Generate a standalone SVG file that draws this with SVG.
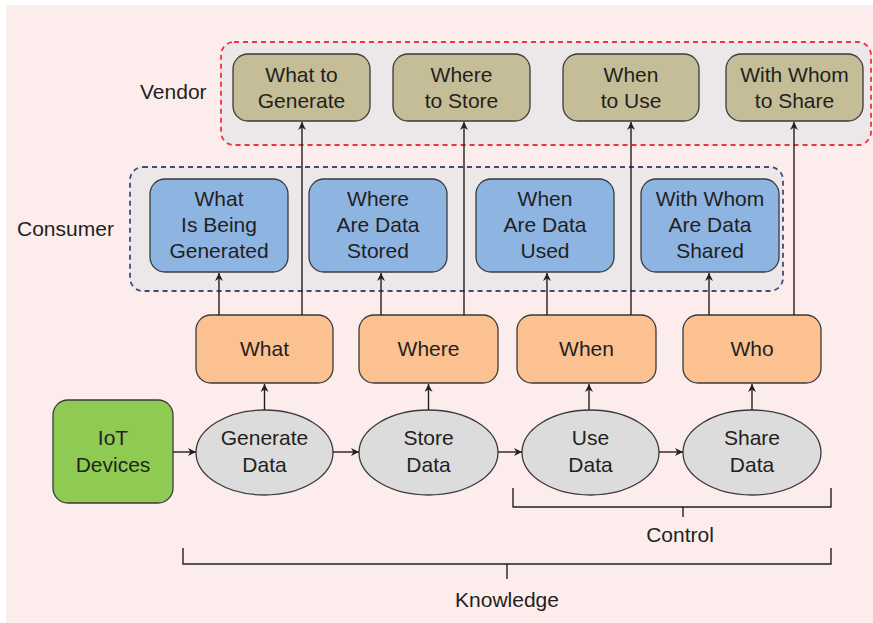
<svg xmlns="http://www.w3.org/2000/svg" width="873" height="623" viewBox="0 0 873 623">
<defs>
<marker id="ah" viewBox="0 0 10 10" refX="10" refY="5" markerWidth="9" markerHeight="8" markerUnits="userSpaceOnUse" orient="auto">
<path d="M0,0 L10,5 L0,10 L3,5 z" fill="#231f20"/>
</marker>
<style>
text{font-family:"Liberation Sans",Arial,sans-serif;font-size:21px;fill:#231f20;}
.c{text-anchor:middle;}
.node{stroke:#3a3a3a;stroke-width:1.3;}
.vendor{fill:#c4bd97;}
.cons{fill:#8eb4e2;}
.q{fill:#fbc191;}
.ell{fill:#dcdcdc;}
.iot{fill:#8fcb53;}
.conn line,.conn path{stroke:#231f20;stroke-width:1.4;fill:none;}
.arr{marker-end:url(#ah);}
</style>
</defs>
<rect x="0" y="0" width="873" height="623" fill="#ffffff"/>
<rect x="6" y="5" width="867" height="618" fill="#fdecec"/>

<g id="vendor-group">
<rect x="221" y="42" width="650" height="103" rx="13" fill="#ece8e9" stroke="#ef3340" stroke-width="1.8" stroke-dasharray="5,4"/>
<text x="140" y="99">Vendor</text>
</g>
<g id="consumer-group">
<rect x="130" y="167" width="653" height="124" rx="13" fill="#ece8e9" stroke="#414a7a" stroke-width="1.8" stroke-dasharray="5,4"/>
<text x="17" y="236">Consumer</text>
</g>

<g id="v1"><rect class="node vendor" x="233" y="54" width="137" height="67" rx="15"/><text class="c" x="301.5" y="82">What to</text><text class="c" x="301.5" y="108">Generate</text></g>
<g id="v2"><rect class="node vendor" x="393" y="54" width="137" height="67" rx="15"/><text class="c" x="461.5" y="82">Where</text><text class="c" x="461.5" y="108">to Store</text></g>
<g id="v3"><rect class="node vendor" x="563" y="54" width="136" height="67" rx="15"/><text class="c" x="631" y="82">When</text><text class="c" x="631" y="108">to Use</text></g>
<g id="v4"><rect class="node vendor" x="726" y="54" width="137" height="67" rx="15"/><text class="c" x="794.5" y="82">With Whom</text><text class="c" x="794.5" y="108">to Share</text></g>

<g id="c1"><rect class="node cons" x="150" y="179" width="138" height="93" rx="15"/><text class="c" x="219" y="206">What</text><text class="c" x="219" y="232">Is Being</text><text class="c" x="219" y="258">Generated</text></g>
<g id="c2"><rect class="node cons" x="309" y="179" width="138" height="93" rx="15"/><text class="c" x="378" y="206">Where</text><text class="c" x="378" y="232">Are Data</text><text class="c" x="378" y="258">Stored</text></g>
<g id="c3"><rect class="node cons" x="476" y="179" width="138" height="93" rx="15"/><text class="c" x="545" y="206">When</text><text class="c" x="545" y="232">Are Data</text><text class="c" x="545" y="258">Used</text></g>
<g id="c4"><rect class="node cons" x="641" y="179" width="138" height="93" rx="15"/><text class="c" x="710" y="206">With Whom</text><text class="c" x="710" y="232">Are Data</text><text class="c" x="710" y="258">Shared</text></g>

<g id="q1"><rect class="node q" x="196" y="315" width="137" height="68" rx="15"/><text class="c" x="264.5" y="356">What</text></g>
<g id="q2"><rect class="node q" x="359" y="315" width="139" height="68" rx="15"/><text class="c" x="428.5" y="356">Where</text></g>
<g id="q3"><rect class="node q" x="517" y="315" width="139" height="68" rx="15"/><text class="c" x="586.5" y="356">When</text></g>
<g id="q4"><rect class="node q" x="683" y="315" width="138" height="68" rx="15"/><text class="c" x="752" y="356">Who</text></g>

<g id="iot"><rect class="node iot" x="53" y="400" width="120" height="103" rx="15"/><text class="c" x="113" y="445">IoT</text><text class="c" x="113" y="472">Devices</text></g>
<g id="e1"><ellipse class="node ell" cx="264.5" cy="452.5" rx="68.5" ry="42.5"/><text class="c" x="264.5" y="445">Generate</text><text class="c" x="264.5" y="472">Data</text></g>
<g id="e2"><ellipse class="node ell" cx="428.5" cy="452.5" rx="69.5" ry="42.5"/><text class="c" x="428.5" y="445">Store</text><text class="c" x="428.5" y="472">Data</text></g>
<g id="e3"><ellipse class="node ell" cx="590.5" cy="452.5" rx="68.5" ry="42.5"/><text class="c" x="590.5" y="445">Use</text><text class="c" x="590.5" y="472">Data</text></g>
<g id="e4"><ellipse class="node ell" cx="752" cy="452.5" rx="69" ry="42.5"/><text class="c" x="752" y="445">Share</text><text class="c" x="752" y="472">Data</text></g>

<g id="connectors" class="conn">
<line class="arr" x1="173" y1="452" x2="196" y2="452"/>
<line class="arr" x1="333" y1="452" x2="359" y2="452"/>
<line class="arr" x1="498" y1="452" x2="522" y2="452"/>
<line class="arr" x1="659" y1="452" x2="683" y2="452"/>

<line class="arr" x1="264.5" y1="410" x2="264.5" y2="384"/>
<line class="arr" x1="428.5" y1="410" x2="428.5" y2="384"/>
<line class="arr" x1="589" y1="410" x2="589" y2="384"/>
<line class="arr" x1="752" y1="410" x2="752" y2="384"/>

<line class="arr" x1="219" y1="315" x2="219" y2="273"/>
<line class="arr" x1="381" y1="315" x2="381" y2="273"/>
<line class="arr" x1="547" y1="315" x2="547" y2="273"/>
<line class="arr" x1="709" y1="315" x2="709" y2="273"/>

<line class="arr" x1="302" y1="315" x2="302" y2="122"/>
<line class="arr" x1="464" y1="315" x2="464" y2="122"/>
<line class="arr" x1="631" y1="315" x2="631" y2="122"/>
<line class="arr" x1="794" y1="315" x2="794" y2="122"/>
</g>

<g id="control">
<path d="M513,488 V507 H831 V488 M683,507 V517" stroke="#231f20" stroke-width="1.4" fill="none"/>
<text class="c" x="680" y="542">Control</text>
</g>
<g id="knowledge">
<path d="M183,548 V564 H831 V548 M507,564 V579" stroke="#231f20" stroke-width="1.4" fill="none"/>
<text class="c" x="507" y="607">Knowledge</text>
</g>
</svg>
